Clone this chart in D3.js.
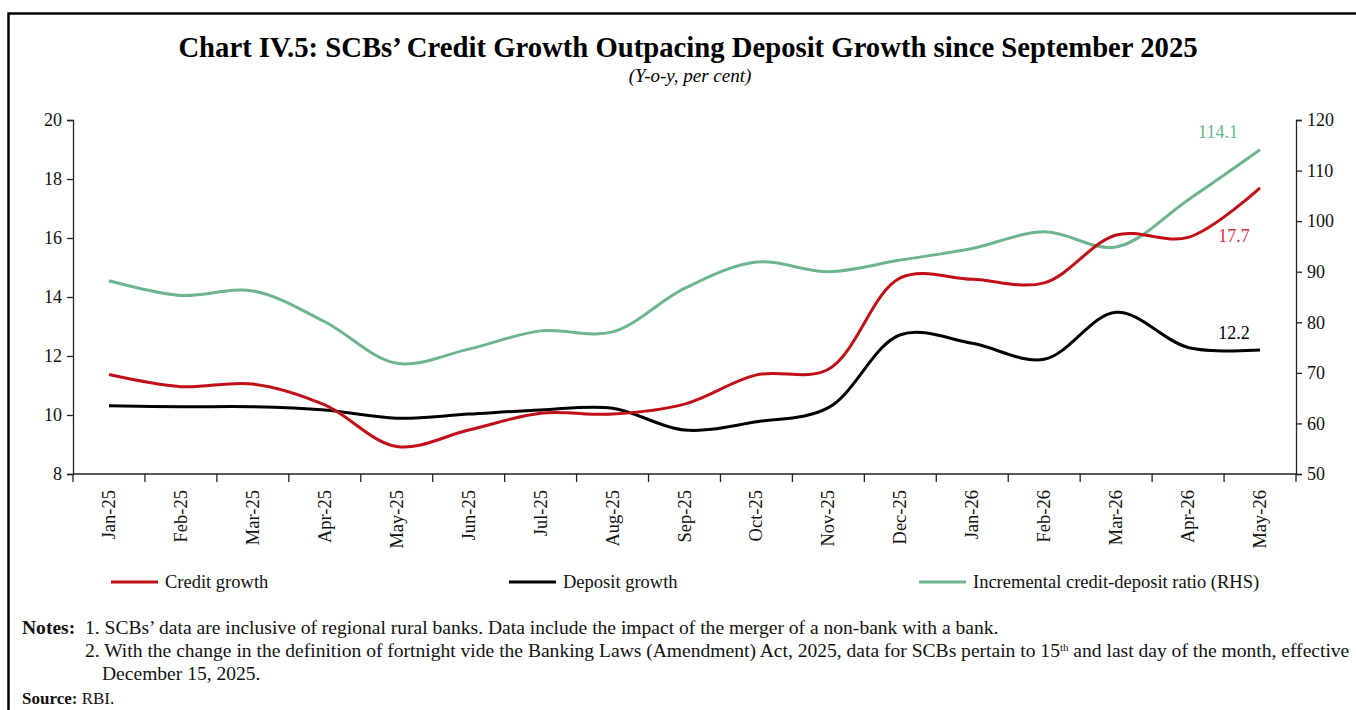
<!DOCTYPE html>
<html>
<head>
<meta charset="utf-8">
<script src="https://cdn.jsdelivr.net/npm/d3@7"></script>
<style>
  body { margin: 0; background: #fff; }
  svg { display: block; font-family: "Liberation Serif", serif; }
</style>
</head>
<body>
<div id="chart"></div>
<script>
// Chart data
var months = ["Jan-25", "Feb-25", "Mar-25", "Apr-25", "May-25", "Jun-25", "Jul-25", "Aug-25", "Sep-25",
    "Oct-25", "Nov-25", "Dec-25", "Jan-26", "Feb-26", "Mar-26", "Apr-26", "May-26"];
var creditGrowth = [11.37, 10.96, 11.05, 10.34, 8.93, 9.49, 10.06, 10.03, 10.37, 11.36, 11.55, 14.65, 14.6, 14.48, 16.1, 16.02, 17.7];
var depositGrowth = [10.31, 10.28, 10.28, 10.17, 9.89, 10.03, 10.17, 10.23, 9.49, 9.77, 10.25, 12.72, 12.43, 11.89, 13.48, 12.29, 12.2];
var incrementalCD = [88.2, 85.3, 86.2, 80.1, 71.9, 74.7, 78.3, 78.1, 86.7, 91.9, 90.0, 92.3, 94.6, 97.9, 94.9, 104.2, 114.1];
var leftTicks = [8, 10, 12, 14, 16, 18, 20];
var rightTicks = [50, 60, 70, 80, 90, 100, 110, 120];

var svgWidth = 1356;
var svgHeight = 710;
var margin = { top: 120, right: 60, bottom: 236, left: 73 };
var plotRight = 1296;
var plotBottom = 474;

var red = "#c00f17";
var green = "#6db58d";

var svg = d3.select("#chart")
    .append("svg")
    .attr("width", svgWidth)
    .attr("height", svgHeight);

// Frame (top and left edges of the box)
svg.append("path")
    .attr("d", "M8.5,720 L8.5,13.5 L1360,13.5")
    .attr("fill", "none")
    .attr("stroke", "#000")
    .attr("stroke-width", 2.5);

// Scales
var x = d3.scaleBand()
    .domain(months)
    .range([margin.left, plotRight])
    .padding(0);

var yLeft = d3.scaleLinear()
    .domain([8, 20])
    .range([plotBottom, margin.top]);

var yRight = d3.scaleLinear()
    .domain([50, 120])
    .range([plotBottom, margin.top]);

var cx = d => x(d) + x.bandwidth() / 2;

// Title and subtitle
var title = svg.append("text")
    .attr("x", 688)
    .attr("y", 57)
    .attr("text-anchor", "middle")
    .attr("font-weight", "bold")
    .attr("font-size", 29)
    .text("Chart IV.5: SCBs\u2019 Credit Growth Outpacing Deposit Growth since September 2025");
// fit to reference width
var tw = title.node().getComputedTextLength();
title.attr("font-size", 29 * 1020 / tw);

svg.append("text")
    .attr("x", 690)
    .attr("y", 82)
    .attr("text-anchor", "middle")
    .attr("font-style", "italic")
    .attr("font-size", 19)
    .text("(Y-o-y, per cent)");

// Axes
var leftAxis = d3.axisLeft(yLeft).tickValues(leftTicks).tickSize(6).tickPadding(5);
var rightAxis = d3.axisRight(yRight).tickValues(rightTicks).tickSize(6).tickPadding(5);

var gLeft = svg.append("g")
    .attr("transform", `translate(${margin.left},0)`)
    .call(leftAxis);

var gRight = svg.append("g")
    .attr("transform", `translate(${plotRight},0)`)
    .call(rightAxis);

[gLeft, gRight].forEach(function(g) {
    g.select(".domain").attr("stroke", "#222").attr("stroke-width", 1.3);
    g.selectAll(".tick line").attr("stroke", "#222").attr("stroke-width", 1.3);
    g.selectAll(".tick text")
        .attr("font-family", "Liberation Serif, serif")
        .attr("font-size", 18)
        .attr("fill", "#111");
});

// Bottom axis: line + ticks at band boundaries
var gBottom = svg.append("g");
gBottom.append("line")
    .attr("x1", margin.left).attr("x2", plotRight)
    .attr("y1", plotBottom).attr("y2", plotBottom)
    .attr("stroke", "#222").attr("stroke-width", 1.3);

gBottom.selectAll(".xtick")
    .data(months.slice(1))
    .enter().append("line")
    .attr("class", "xtick")
    .attr("x1", d => x(d)).attr("x2", d => x(d))
    .attr("y1", plotBottom).attr("y2", plotBottom + 8)
    .attr("stroke", "#222").attr("stroke-width", 1.3);

gBottom.append("line")
    .attr("x1", margin.left).attr("x2", margin.left)
    .attr("y1", plotBottom).attr("y2", plotBottom + 8)
    .attr("stroke", "#222").attr("stroke-width", 1.3);

gBottom.append("line")
    .attr("x1", plotRight).attr("x2", plotRight)
    .attr("y1", plotBottom).attr("y2", plotBottom + 8)
    .attr("stroke", "#222").attr("stroke-width", 1.3);

gBottom.selectAll(".xlabel")
    .data(months)
    .enter().append("text")
    .attr("class", "xlabel")
    .attr("transform", d => `translate(${cx(d) + 6},${plotBottom + 16}) rotate(-90)`)
    .attr("text-anchor", "end")
    .attr("font-size", 18.5)
    .attr("fill", "#111")
    .text(d => d);

// Lines
var lineLeft = d3.line()
    .x((d, i) => cx(months[i]))
    .y(d => yLeft(d))
    .curve(d3.curveCatmullRom.alpha(0.5));

var lineRight = d3.line()
    .x((d, i) => cx(months[i]))
    .y(d => yRight(d))
    .curve(d3.curveCatmullRom.alpha(0.5));

svg.append("path")
    .datum(incrementalCD)
    .attr("d", lineRight)
    .attr("fill", "none")
    .attr("stroke", green)
    .attr("stroke-width", 3);

svg.append("path")
    .datum(depositGrowth)
    .attr("d", lineLeft)
    .attr("fill", "none")
    .attr("stroke", "#000")
    .attr("stroke-width", 3);

svg.append("path")
    .datum(creditGrowth)
    .attr("d", lineLeft)
    .attr("fill", "none")
    .attr("stroke", red)
    .attr("stroke-width", 3);

// End labels
var last = months[months.length - 1];
svg.append("text")
    .attr("x", cx(last) - 42).attr("y", yRight(incrementalCD[16]) - 12)
    .attr("text-anchor", "middle")
    .attr("font-size", 18).attr("fill", green)
    .text(incrementalCD[16].toFixed(1));

svg.append("text")
    .attr("x", cx(last) - 26).attr("y", yLeft(creditGrowth[16]) + 54)
    .attr("text-anchor", "middle")
    .attr("font-size", 18).attr("fill", "#d03038")
    .text(d3.format(".1f")(creditGrowth[16]));

svg.append("text")
    .attr("x", cx(last) - 26).attr("y", yLeft(depositGrowth[16]) - 11)
    .attr("text-anchor", "middle")
    .attr("font-size", 18).attr("fill", "#000")
    .text(d3.format(".1f")(depositGrowth[16]));

// Legend
var legendItems = [
    { label: "Credit growth", color: red, x: 111 },
    { label: "Deposit growth", color: "#000", x: 509 },
    { label: "Incremental credit-deposit ratio (RHS)", color: green, x: 919 }
];
var legend = svg.selectAll(".legend")
    .data(legendItems)
    .enter().append("g")
    .attr("class", "legend")
    .attr("transform", d => `translate(${d.x},582)`);

legend.append("line")
    .attr("x1", 0).attr("x2", 47)
    .attr("stroke", d => d.color)
    .attr("stroke-width", 3);

legend.append("text")
    .attr("x", 54).attr("y", 6)
    .attr("font-size", 18.5)
    .attr("fill", "#111")
    .text(d => d.label);

// Notes and source
var notes = svg.append("g").attr("font-size", 17).attr("fill", "#111");

notes.append("text")
    .attr("x", 22).attr("y", 634)
    .attr("font-weight", "bold")
    .text("Notes:");

notes.append("text")
    .attr("x", 85).attr("y", 634)
    .text("1.  SCBs\u2019 data are inclusive of regional rural banks. Data include the impact of the merger of a non-bank with a bank.");

var note2 = notes.append("text")
    .attr("x", 85).attr("y", 657);
note2.append("tspan").text("2.  With the change in the definition of fortnight vide the Banking Laws (Amendment) Act, 2025, data for SCBs pertain to 15");
note2.append("tspan").attr("font-size", 11).attr("dy", -6).text("th");
note2.append("tspan").attr("dy", 6).text(" and last day of the month, effective");
var n2w = note2.node().getComputedTextLength();
notes.attr("font-size", 17 * 1267 / n2w);

notes.append("text")
    .attr("x", 102).attr("y", 680)
    .text("December 15, 2025.");

var source = svg.append("text")
    .attr("x", 22).attr("y", 704)
    .attr("font-size", 17)
    .attr("fill", "#111");
source.append("tspan").attr("font-weight", "bold").text("Source:");
source.append("tspan").text(" RBI.");
</script>
</body>
</html>
